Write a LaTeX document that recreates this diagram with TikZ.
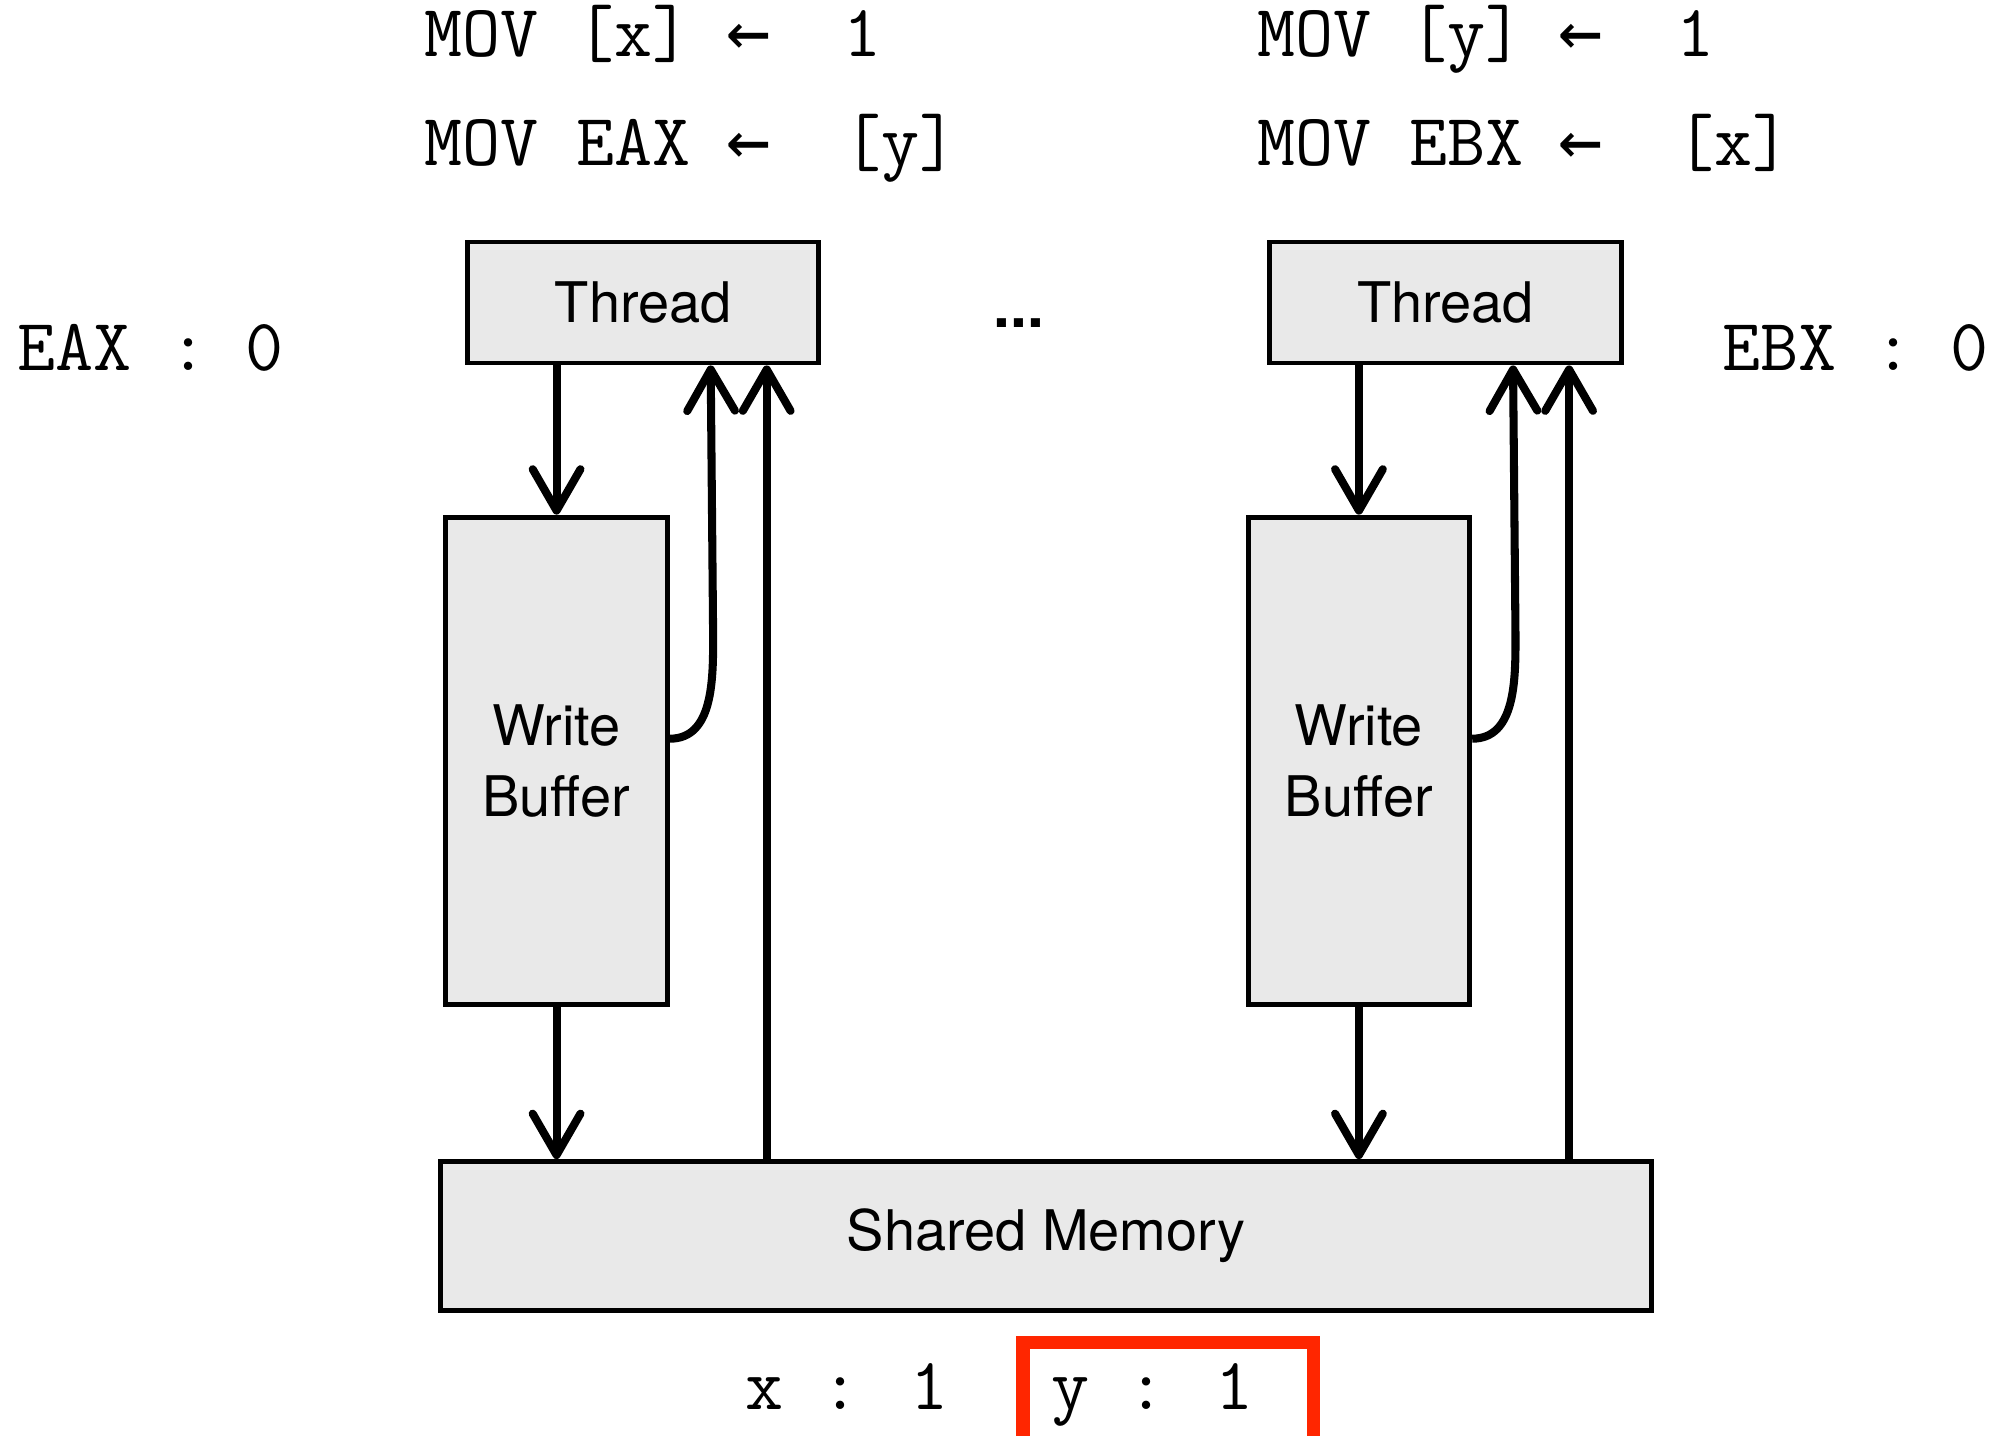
\documentclass[tikz,border=0pt]{standalone}
\usepackage{fontspec}
\setsansfont{TeX Gyre Heros}
\newfontfamily\arrowfont{DejaVu Sans Mono}
\usepackage{tikz}
\usetikzlibrary{arrows.meta, positioning}
\definecolor{BoxGray}{RGB}{233, 233, 233}
\definecolor{MarkRed}{RGB}{255, 38, 0}
\newcommand{\larr}{\makebox[0.525em]{\arrowfont ←}}
\tikzset{
  unit/.style={rectangle, draw=black, fill=BoxGray, line width=2.2pt,
               font=\sffamily\fontsize{25}{32}\selectfont, align=center,
               inner sep=0pt},
  code/.style={font=\ttfamily\fontsize{33}{40}\selectfont, inner sep=0pt,
               anchor=base west},
  arr/.style={-{Straight Barb[length=6.5mm, width=7.5mm, round]},
              line width=3.6pt},
  markbox/.style={rectangle, draw=MarkRed, line width=6pt, inner sep=0pt},
}

\begin{document}
\begin{tikzpicture}
      \useasboundingbox (0,0) rectangle (31.36,-22.54);

      % Programs of the two threads
      \node[code] (movxl) at (6.66,-0.88) {MOV [x] \larr\ \ 1};
      \node[code] (moveax) at (6.66,-2.6) {MOV EAX \larr\ \ [y]};
      \node[code] (movyr) at (19.74,-0.88) {MOV [y] \larr\ \ 1};
      \node[code] (movebx) at (19.74,-2.6) {MOV EBX \larr\ \ [x]};

      % Registers
      \node[code] (eax) at (0.26,-5.82) {EAX : 0};
      \node[code] (ebx) at (27.04,-5.82) {EBX : 0};

      % Threads
      \node[unit, minimum width=5.52cm, minimum height=1.9cm] (thl) at (10.1,-4.75) {Thread};
      \node[unit, minimum width=5.52cm, minimum height=1.9cm] (thr) at (22.7,-4.75) {Thread};
      \node[font=\sffamily\bfseries\fontsize{27}{32}\selectfont, inner sep=0pt,
            anchor=base] (dots) at (16.0,-5.14) {...};

      % Write buffers
      \node[unit, minimum width=3.48cm, minimum height=7.66cm] (wbl) at (8.74,-11.95) {Write\\Buffer};
      \node[unit, minimum width=3.48cm, minimum height=7.66cm] (wbr) at (21.34,-11.95) {Write\\Buffer};

      % Memory
      \node[unit, minimum width=19.02cm, minimum height=2.34cm] (shm) at (16.43,-19.41) {Shared Memory};
      \node[code] (xval) at (11.7,-22.14) {x : 1};
      \node[code] (yval) at (16.5,-22.14) {y : 1};
      \node[markbox, minimum width=4.56cm, minimum height=2.6cm, anchor=north west] (mark) at (15.96,-20.98) {};

      % Left side
      \draw[arr] (wbl.north |- thl.south) -- (wbl.north);
      \draw[arr] (wbl.south) -- (wbl.south |- shm.north);
      \draw[arr] ([yshift=3.5mm]wbl.east) to[out=0, in=-90] ++(0.68,1.6) -- ([xshift=10.6mm]thl.south);
      \draw[arr] ([xshift=19.4mm]thl.south |- shm.north) -- ([xshift=19.4mm]thl.south);

      % Right side
      \draw[arr] (wbr.north |- thr.south) -- (wbr.north);
      \draw[arr] (wbr.south) -- (wbr.south |- shm.north);
      \draw[arr] ([yshift=3.5mm]wbr.east) to[out=0, in=-90] ++(0.68,1.6) -- ([xshift=10.6mm]thr.south);
      \draw[arr] ([xshift=19.4mm]thr.south |- shm.north) -- ([xshift=19.4mm]thr.south);
\end{tikzpicture}
\end{document}
